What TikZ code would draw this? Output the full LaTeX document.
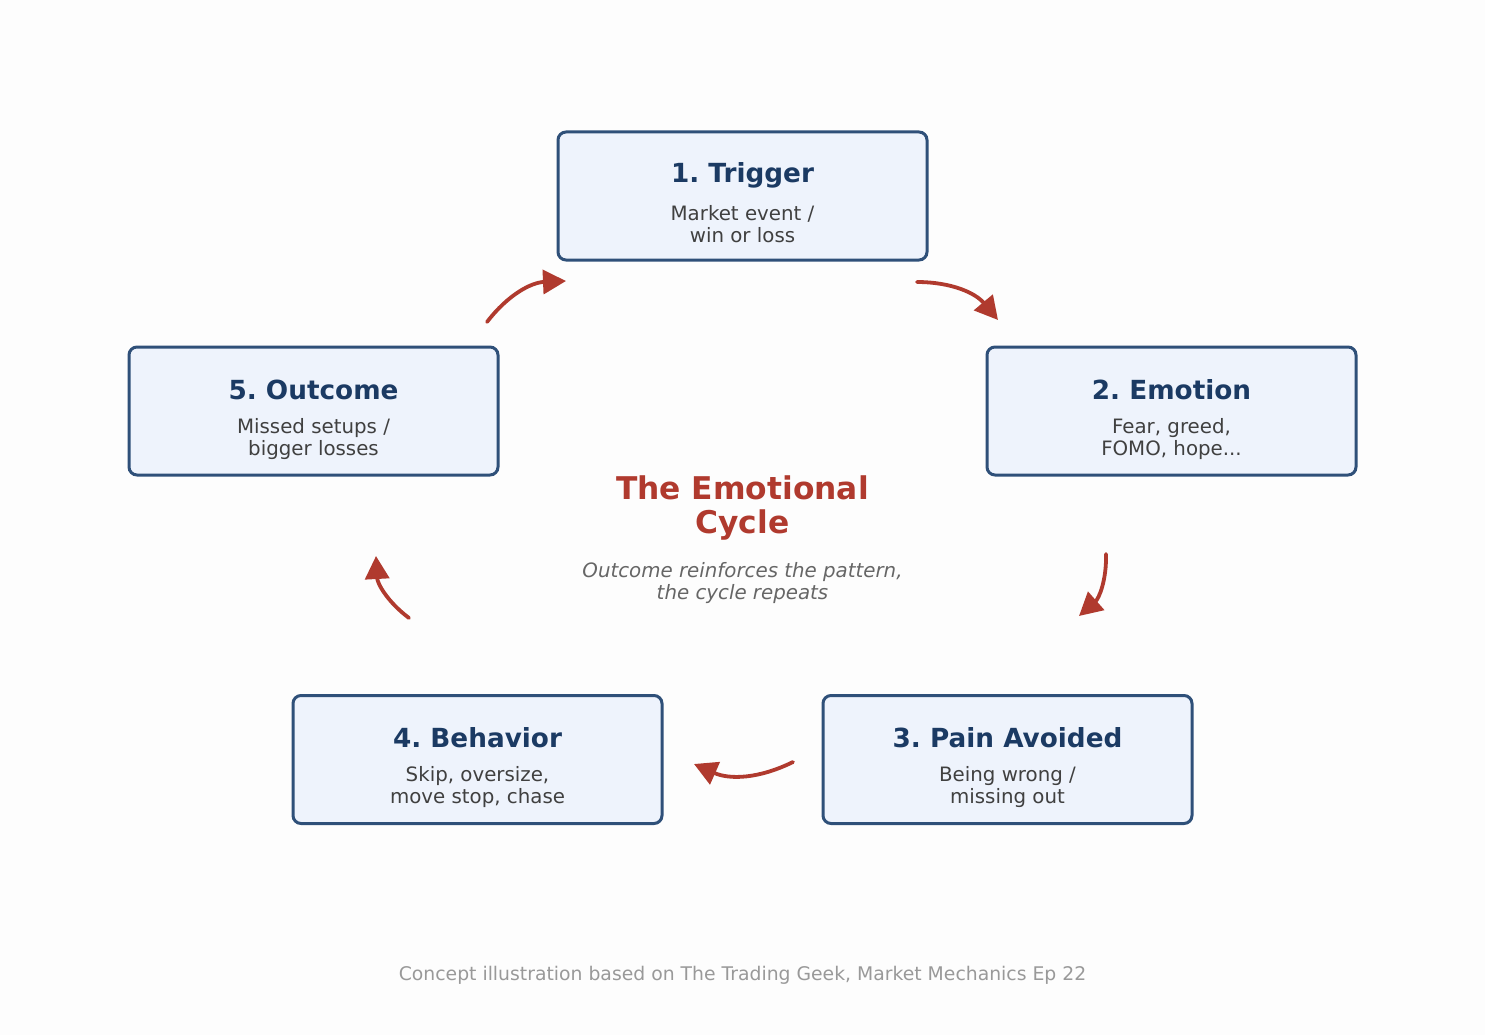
\documentclass[tikz,border=0pt]{standalone}
\usepackage{fontspec}
\setmainfont{DejaVu Sans}
\usetikzlibrary{arrows.meta}
\definecolor{bgc}{HTML}{FDFDFD}
\definecolor{boxfill}{HTML}{EEF3FC}
\definecolor{boxline}{HTML}{2F5079}
\definecolor{navy}{HTML}{1B3A63}
\definecolor{subtxt}{HTML}{404040}
\definecolor{redc}{HTML}{B03A2E}
\definecolor{grayt}{HTML}{666666}
\definecolor{foot}{HTML}{999999}
\tikzset{
  x=1pt,y=-1pt,
  stagebox/.style={draw=boxline,fill=boxfill,line width=3pt,rounded corners=8pt,minimum width=369pt,minimum height=128pt,inner sep=0pt},
  stagetitle/.style={text=navy,font=\fontsize{26.3}{28}\selectfont\bfseries,inner sep=0pt},
  stagesub/.style={text=subtxt,font=\fontsize{19.8}{22}\selectfont,align=center,inner sep=0pt},
  cyc/.style={draw=redc,line width=3.8pt,line cap=round,-{Triangle[length=23pt,width=24pt,fill=redc]},bend left=25}
}
\begin{document}
\frenchspacing
\begin{tikzpicture}
\useasboundingbox[fill=bgc] (0,0) rectangle (1485,1035);
% boxes
\node[stagebox] (b1) at (742.5,196) {};
\node[stagebox] (b2) at (1171.5,411) {};
\node[stagebox] (b3) at (1007.5,759.5) {};
\node[stagebox] (b4) at (477.5,759.5) {};
\node[stagebox] (b5) at (313.5,411) {};
% titles
\node[stagetitle] (t1) at ([yshift=21pt]b1.center) {1. Trigger};
\node[stagesub] (s1) at ([yshift=-28pt]b1.center) {Market event /\\win or loss};
\node[stagetitle] (t2) at ([yshift=21pt]b2.center) {2. Emotion};
\node[stagesub] (s2) at ([yshift=-28pt]b2.center) {Fear, greed,\\FOMO, hope...};
\node[stagetitle] (t3) at ([yshift=21.5pt]b3.center) {3. Pain Avoided};
\node[stagesub] (s3) at ([yshift=-27.5pt]b3.center) {Being wrong /\\missing out};
\node[stagetitle] (t4) at ([yshift=21.5pt]b4.center) {4. Behavior};
\node[stagesub] (s4) at ([yshift=-27.5pt]b4.center) {Skip, oversize,\\move stop, chase};
\node[stagetitle] (t5) at ([yshift=21pt]b5.center) {5. Outcome};
\node[stagesub] (s5) at ([yshift=-28pt]b5.center) {Missed setups /\\bigger losses};
% center
\node[text=redc,font=\fontsize{31.3}{34}\selectfont\bfseries,align=center,inner sep=0pt] (ct) at (742.5,508) {The Emotional\\Cycle};
\node[text=grayt,font=\fontsize{19.8}{22}\selectfont\itshape,align=center,inner sep=0pt] (cs) at (742.5,583) {Outcome reinforces the pattern,\\the cycle repeats};
\node[text=foot,font=\fontsize{18.8}{22}\selectfont,inner sep=0pt] (ft) at (742.5,975) {Concept illustration based on The Trading Geek, Market Mechanics Ep 22};
% arrow endpoints
\coordinate (a1s) at (487,322); \coordinate (a1e) at (566,281);
\coordinate (a2s) at (917,282); \coordinate (a2e) at (998,320);
\coordinate (a3s) at (1106,554); \coordinate (a3e) at (1079,616);
\coordinate (a4s) at (793,762); \coordinate (a4e) at (694,764);
\coordinate (a5s) at (409,618); \coordinate (a5e) at (376,556);
\draw[cyc] (a1s) to (a1e);
\draw[cyc] (a2s) to (a2e);
\draw[cyc] (a3s) to (a3e);
\draw[cyc] (a4s) to (a4e);
\draw[cyc] (a5s) to (a5e);
\end{tikzpicture}
\end{document}
